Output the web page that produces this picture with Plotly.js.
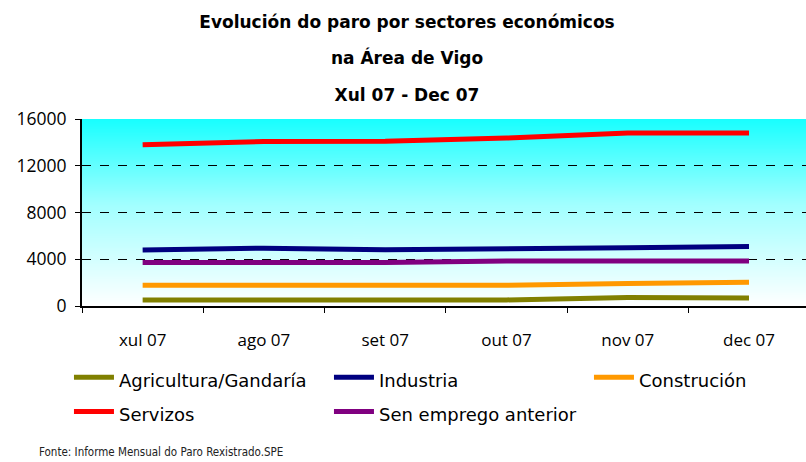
<!DOCTYPE html>
<html>
<head>
<meta charset="utf-8">
<script src="https://cdn.plot.ly/plotly-3.0.1.min.js"></script>
<style>html,body{margin:0;padding:0;overflow:hidden;background:#fff;}#chart{width:806px;height:462px;}</style>
</head>
<body>
<div id="chart"></div>
<script>
const months = ["xul 07", "ago 07", "set 07", "out 07", "nov 07", "dec 07"];
const agricultura = [520, 520, 520, 520, 720, 690];
const industria = [4800, 4950, 4820, 4860, 4980, 5100];
const construcion = [1780, 1780, 1780, 1780, 1930, 2040];
const servizos = [13790, 14080, 14100, 14370, 14800, 14800];
const senEmprego = [3715, 3715, 3720, 3855, 3855, 3855];
const seriesNames = ["Agricultura/Gandaría", "Industria", "Construción", "Servizos", "Sen emprego anterior"];
const seriesColors = ["#808000", "#000080", "#FF9900", "#FF0000", "#800080"];
const yTicks = [0, 4000, 8000, 12000, 16000];

const seriesData = [agricultura, industria, construcion, servizos, senEmprego];

// vertical gradient image for plot background
const cv = document.createElement('canvas');
cv.width = 4; cv.height = 200;
const cx = cv.getContext('2d');
const g = cx.createLinearGradient(0, 0, 0, 200);
g.addColorStop(0, '#18FFFF');
g.addColorStop(0.45, '#A0FFFF');
g.addColorStop(1, '#FFFFFF');
cx.fillStyle = g; cx.fillRect(0, 0, 4, 200);
const bgURL = cv.toDataURL();

const traces = seriesData.map((vals, i) => ({
  type: 'scatter', mode: 'lines',
  x: months, y: vals,
  name: "<span style='font-size:18px'>" + seriesNames[i] + "</span>",
  line: {color: seriesColors[i], width: 5},
  hoverinfo: 'skip'
}));

const layout = {
  width: 806, height: 462,
  margin: {l: 82, r: 0, t: 119, b: 156, autoexpand: false},
  paper_bgcolor: '#fff',
  plot_bgcolor: 'rgba(0,0,0,0)',
  title: {
    text: "<span style='font-size:17px'>Evolución do paro por sectores económicos</span><br><span style='font-size:17px'>na Área de Vigo</span><br><span style='font-size:17px'>Xul 07 - Dec 07</span>",
    font: {family: 'DejaVu Sans', size: 28, color: '#000', weight: 'bold'},
    x: 0.505, xref: 'container', xanchor: 'center',
    y: 0.94, yref: 'container', yanchor: 'top'
  },
  images: [{source: bgURL, xref: 'paper', yref: 'paper', x: 0, y: 1, sizex: 1, sizey: 1,
    sizing: 'stretch', xanchor: 'left', yanchor: 'top', layer: 'below'}],
  xaxis: {
    type: 'category', range: [-0.5, 5.47],
    showline: true, linecolor: '#000', linewidth: 2,
    ticks: 'outside', tickson: 'boundaries', ticklen: 5, tickcolor: '#000', tickwidth: 1,
    showgrid: false, zeroline: false,
    tickfont: {family: 'Open Sans', size: 17, color: '#000'},
    ticklabelstandoff: 18
  },
  yaxis: {
    range: [0, 16000], tickvals: yTicks, ticktext: yTicks.map(String),
    showline: true, linecolor: '#000', linewidth: 2,
    ticks: 'outside', ticklen: 5, tickcolor: '#000',
    showgrid: true, gridcolor: '#000', griddash: 'dash', gridwidth: 1,
    zeroline: false,
    tickfont: {family: 'Open Sans', size: 17.5, color: '#000'},
    ticklabelstandoff: 5
  },
  showlegend: true,
  legend: {
    orientation: 'h', x: -0.018, xanchor: 'left', y: -0.2625, yanchor: 'top',
    entrywidth: 205, entrywidthmode: 'pixels', itemwidth: 40,
    font: {family: 'DejaVu Sans', size: 24, color: '#000'},
    bgcolor: 'rgba(0,0,0,0)', traceorder: 'normal'
  },
  annotations: [{
    text: 'Fonte: Informe Mensual do Paro Rexistrado.SPE',
    xref: 'paper', yref: 'paper', x: -0.0622, y: -0.78, xanchor: 'left', yanchor: 'middle',
    showarrow: false, font: {family: 'DejaVu Sans Condensed, DejaVu Sans', size: 11.5, color: '#222'}
  }]
};

Plotly.newPlot('chart', traces, layout, {displayModeBar: false, staticPlot: true});
</script>
</body>
</html>
